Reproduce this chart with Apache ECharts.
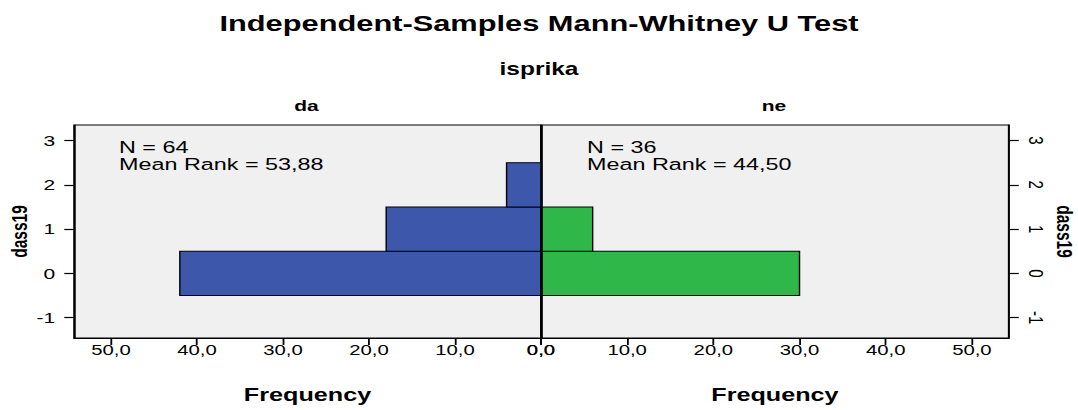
<!DOCTYPE html>
<html>
<head>
<meta charset="utf-8">
<script src="https://cdn.jsdelivr.net/npm/echarts@6/dist/echarts.min.js"></script>
<style>
  html, body { margin: 0; padding: 0; background: #fff; overflow: hidden; }
  #wrap { width: 1078px; height: 410px; overflow: hidden; }
  /* the chart is laid out narrow and widened horizontally as a whole */
  #chart { width: 770px; height: 410px; transform: scaleX(1.4); transform-origin: 0 0; }
</style>
</head>
<body>
<div id="wrap"><div id="chart"></div></div>
<script>
// dass19 score bins and frequency per group
const groupNames = ['da', 'ne'];
const binValues = [0, 1, 2];
const daFrequency = [42, 18, 4];
const neFrequency = [30, 6, 0];
const freqTicks = [0, 10, 20, 30, 40, 50];
const scoreTicks = [-1, 0, 1, 2, 3];
const daSummary = ['N = 64', 'Mean Rank = 53,88'];
const neSummary = ['N = 36', 'Mean Rank = 44,50'];

const FONT = "'Liberation Sans', Arial, sans-serif";
const fmt = v => v.toFixed(1).replace('.', ',');

// one histogram bar per bin, spanning bin ± 0.5 on the score axis
function histItem(color) {
  return function (params, api) {
    const bin = api.value(0);
    const count = api.value(1);
    if (!count) return null;
    const a = api.coord([0, bin + 0.5]);
    const b = api.coord([count, bin - 0.5]);
    return {
      type: 'rect',
      shape: {
        x: Math.min(a[0], b[0]),
        y: Math.min(a[1], b[1]),
        width: Math.abs(b[0] - a[0]),
        height: Math.abs(b[1] - a[1])
      },
      style: { fill: color, stroke: '#000', lineWidth: 1 }
    };
  };
}

function freqAxis(gridIndex, inverse) {
  return {
    type: 'value', gridIndex, inverse, min: 0, max: 54.3,
    axisLine: { show: true, onZero: false, lineStyle: { color: '#000', width: 1.2 } },
    axisTick: { show: true, customValues: freqTicks, length: 7, lineStyle: { color: '#000', width: 1.3 } },
    axisLabel: { customValues: freqTicks, formatter: fmt, fontFamily: FONT, fontSize: 14.5, color: '#000', margin: 5 },
    splitLine: { show: false },
    name: 'Frequency', nameLocation: 'middle', nameGap: 48,
    nameTextStyle: { fontFamily: FONT, fontSize: 18, fontWeight: 'bold', color: '#000' }
  };
}

function scoreAxis(gridIndex, position) {
  const right = position === 'right';
  return {
    type: 'value', gridIndex, position, min: -1.46, max: 3.35,
    axisLine: { show: true, onZero: false, lineStyle: { color: '#000', width: 1.2 } },
    axisTick: { show: true, customValues: scoreTicks, length: 7, lineStyle: { color: '#000', width: 1.2 } },
    axisLabel: {
      customValues: scoreTicks, fontFamily: FONT, fontSize: 15, color: '#000',
      margin: right ? 12 : 13.5, rotate: right ? -90 : 0
    },
    splitLine: { show: false },
    name: 'dass19', nameLocation: 'middle', nameGap: right ? 32 : 31,
    nameRotate: right ? -90 : 90,
    nameTextStyle: { fontFamily: FONT, fontSize: 15.5, fontWeight: 'bold', color: '#000' }
  };
}

const gridBase = {
  top: 125, height: 213, show: true, outerBoundsMode: 'none', containLabel: false,
  backgroundColor: '#f0f0f0', borderColor: '#000', borderWidth: 1.2
};

const chart = echarts.init(document.getElementById('chart'), null, { renderer: 'svg' });
chart.setOption({
  animation: false,
  backgroundColor: '#fff',
  title: [
    { text: 'Independent-Samples Mann-Whitney U Test', left: 'center', top: 8,
      textStyle: { fontFamily: FONT, fontSize: 22, fontWeight: 'bold', color: '#000' } },
    { text: 'isprika', left: 'center', top: 55,
      textStyle: { fontFamily: FONT, fontSize: 17.5, fontWeight: 'bold', color: '#000' } }
  ],
  grid: [
    Object.assign({ left: 52.9, width: 333.5 }, gridBase),
    Object.assign({ left: 386.4, width: 334.3 }, gridBase)
  ],
  xAxis: [freqAxis(0, true), freqAxis(1, false)],
  yAxis: [scoreAxis(0, 'left'), scoreAxis(1, 'right')],
  graphic: [
    { type: 'text', left: 219.6 - 9.5, top: 98, style: { text: groupNames[0], font: 'bold 15px ' + FONT, fill: '#000' } },
    { type: 'text', left: 553.6 - 9.5, top: 98, style: { text: groupNames[1], font: 'bold 15px ' + FONT, fill: '#000' } },
    { type: 'text', left: 85, top: 138, style: { text: daSummary.join('\n'), font: '16.7px ' + FONT, lineHeight: 17.6, fill: '#000' } },
    { type: 'text', left: 419.3, top: 138, style: { text: neSummary.join('\n'), font: '16.7px ' + FONT, lineHeight: 17.6, fill: '#000' } }
  ],
  series: [
    {
      type: 'custom', xAxisIndex: 0, yAxisIndex: 0,
      data: binValues.map((b, i) => [b, daFrequency[i]]),
      encode: { x: 1, y: 0 },
      renderItem: histItem('#3d58ab'),
      markLine: {
        silent: true, symbol: 'none', label: { show: false },
        lineStyle: { color: '#000', width: 1.5, type: 'solid' },
        data: [{ xAxis: 0 }]
      }
    },
    {
      type: 'custom', xAxisIndex: 1, yAxisIndex: 1,
      data: binValues.map((b, i) => [b, neFrequency[i]]),
      encode: { x: 1, y: 0 },
      renderItem: histItem('#2fb74a')
    }
  ]
});
</script>
</body>
</html>
